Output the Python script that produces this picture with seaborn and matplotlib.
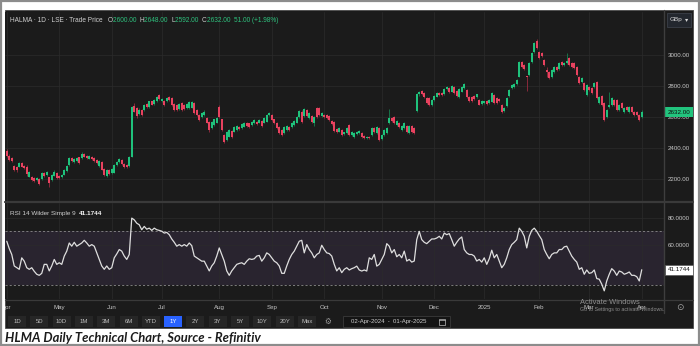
import numpy as np
import pandas as pd
import matplotlib
matplotlib.use("Agg")
import matplotlib.pyplot as plt
import seaborn as sns
from matplotlib.patches import Rectangle
from matplotlib.lines import Line2D
from matplotlib.transforms import blended_transform_factory, Bbox, TransformedBbox
from matplotlib.offsetbox import TextArea, HPacker, AnchoredOffsetbox
from matplotlib.ticker import FormatStrFormatter

# ---------------- data ----------------
start_date = "2024-04-02"
end_date = "2025-04-01"
uk_holidays = ["2024-05-06", "2024-05-27", "2024-08-26",
               "2024-12-25", "2024-12-26", "2025-01-01"]

opens = [
    2380, 2350, 2335, 2285, 2275, 2280, 2305, 2285, 2280, 2215,
    2215, 2205, 2195, 2200, 2200, 2238, 2225, 2210, 2195, 2222,
    2240, 2222, 2210, 2228, 2250, 2290, 2335, 2308, 2315, 2340,
    2335, 2362, 2350, 2330, 2345, 2335, 2322, 2282, 2312, 2262,
    2218, 2255, 2238, 2240, 2290, 2312, 2325, 2298, 2290, 2285,
    2345, 2668, 2655, 2622, 2645, 2645, 2685, 2665, 2700, 2685,
    2700, 2742, 2703, 2705, 2700, 2730, 2720, 2684, 2678, 2650,
    2688, 2678, 2656, 2656, 2660, 2688, 2645, 2613, 2598, 2613,
    2592, 2570, 2527, 2549, 2564, 2667, 2585, 2484, 2452, 2473,
    2512, 2506, 2516, 2538, 2527, 2538, 2564, 2559, 2549, 2559,
    2570, 2564, 2577, 2564, 2570, 2613, 2613, 2585, 2559, 2538,
    2516, 2495, 2516, 2534, 2538, 2549, 2564, 2602, 2635, 2607,
    2645, 2592, 2607, 2560, 2656, 2656, 2607, 2613, 2613, 2606,
    2576, 2570, 2520, 2506, 2516, 2490, 2495, 2548, 2484, 2469,
    2490, 2495, 2499, 2478, 2462, 2474, 2484, 2531, 2495, 2527,
    2456, 2484, 2495, 2559, 2591, 2598, 2548, 2563, 2516, 2527,
    2541, 2495, 2541, 2527, 2640, 2745, 2765, 2757, 2720, 2720,
    2677, 2710, 2731, 2753, 2752, 2748, 2778, 2785, 2763, 2796,
    2770, 2731, 2763, 2785, 2774, 2731, 2727, 2735, 2727, 2710,
    2682, 2690, 2705, 2688, 2699, 2742, 2720, 2718, 2677, 2640,
    2670, 2735, 2785, 2796, 2813, 2860, 2957, 2935, 2862, 2871,
    2957, 3022, 3092, 3022, 3011, 2968, 2905, 2892, 2860, 2892,
    2925, 2907, 2957, 2936, 2946, 2978, 2951, 2946, 2920, 2860,
    2828, 2822, 2742, 2796, 2785, 2796, 2828, 2688, 2735, 2688,
    2602, 2663, 2677, 2710, 2710, 2645, 2688, 2634, 2663, 2634,
    2666, 2634, 2634, 2613, 2600,
]

closes = [
    2350, 2325, 2315, 2260, 2255, 2300, 2280, 2270, 2230, 2245,
    2195, 2190, 2208, 2170, 2240, 2222, 2242, 2175, 2225, 2248,
    2205, 2205, 2228, 2258, 2285, 2335, 2315, 2328, 2335, 2302,
    2362, 2345, 2335, 2348, 2328, 2315, 2302, 2316, 2260, 2228,
    2258, 2230, 2262, 2290, 2312, 2330, 2298, 2280, 2278, 2345,
    2665, 2635, 2605, 2648, 2615, 2678, 2665, 2700, 2680, 2710,
    2730, 2714, 2714, 2678, 2720, 2710, 2678, 2645, 2645, 2684,
    2645, 2650, 2684, 2699, 2695, 2624, 2613, 2581, 2624, 2635,
    2564, 2516, 2570, 2585, 2592, 2602, 2516, 2441, 2506, 2516,
    2473, 2533, 2542, 2520, 2555, 2559, 2542, 2538, 2570, 2581,
    2553, 2581, 2542, 2592, 2613, 2624, 2581, 2559, 2527, 2495,
    2484, 2538, 2542, 2516, 2564, 2577, 2602, 2641, 2570, 2650,
    2607, 2624, 2570, 2602, 2602, 2613, 2628, 2602, 2592, 2581,
    2555, 2512, 2505, 2527, 2484, 2500, 2527, 2484, 2505, 2499,
    2505, 2510, 2473, 2462, 2474, 2462, 2527, 2505, 2538, 2452,
    2484, 2516, 2527, 2591, 2576, 2559, 2576, 2538, 2541, 2563,
    2505, 2541, 2505, 2499, 2745, 2760, 2745, 2731, 2688, 2677,
    2710, 2736, 2757, 2742, 2742, 2778, 2791, 2763, 2800, 2753,
    2735, 2778, 2796, 2813, 2731, 2705, 2705, 2714, 2745, 2680,
    2705, 2700, 2684, 2708, 2753, 2692, 2692, 2700, 2634, 2660,
    2720, 2774, 2806, 2812, 2839, 2957, 2925, 2907, 2858, 2951,
    3011, 3075, 3043, 2979, 2990, 2936, 2890, 2850, 2903, 2925,
    2903, 2951, 2936, 2951, 2960, 2936, 2925, 2914, 2871, 2817,
    2850, 2774, 2806, 2774, 2753, 2817, 2720, 2731, 2677, 2580,
    2645, 2677, 2720, 2677, 2645, 2677, 2656, 2656, 2645, 2666,
    2634, 2613, 2613, 2581, 2632,
]

highs = [
    2392, 2358, 2342, 2292, 2282, 2308, 2312, 2292, 2288, 2252,
    2222, 2210, 2215, 2205, 2246, 2245, 2250, 2215, 2230, 2255,
    2246, 2228, 2234, 2264, 2290, 2340, 2342, 2335, 2342, 2345,
    2372, 2368, 2355, 2354, 2350, 2340, 2328, 2322, 2318, 2268,
    2264, 2262, 2268, 2296, 2318, 2336, 2330, 2304, 2296, 2350,
    2672, 2690, 2662, 2655, 2652, 2684, 2690, 2706, 2705, 2716,
    2736, 2750, 2720, 2712, 2726, 2736, 2726, 2690, 2684, 2690,
    2694, 2684, 2690, 2705, 2700, 2694, 2650, 2618, 2630, 2642,
    2598, 2576, 2576, 2590, 2598, 2675, 2590, 2490, 2512, 2522,
    2518, 2540, 2548, 2544, 2560, 2565, 2570, 2564, 2576, 2587,
    2576, 2587, 2583, 2598, 2620, 2630, 2618, 2590, 2565, 2544,
    2522, 2544, 2548, 2540, 2570, 2583, 2608, 2648, 2642, 2656,
    2652, 2630, 2613, 2608, 2662, 2662, 2634, 2618, 2618, 2612,
    2582, 2576, 2526, 2533, 2522, 2506, 2533, 2554, 2511, 2505,
    2511, 2516, 2505, 2484, 2480, 2480, 2533, 2537, 2544, 2533,
    2490, 2522, 2533, 2650, 2597, 2604, 2582, 2569, 2547, 2569,
    2547, 2547, 2547, 2533, 2752, 2770, 2772, 2763, 2726, 2726,
    2716, 2742, 2763, 2759, 2758, 2784, 2797, 2791, 2806, 2802,
    2776, 2784, 2802, 2819, 2780, 2737, 2733, 2741, 2751, 2716,
    2711, 2706, 2711, 2714, 2760, 2748, 2726, 2724, 2683, 2666,
    2726, 2780, 2812, 2818, 2845, 2963, 2963, 2941, 2866, 2957,
    3017, 3082, 3100, 3028, 3017, 2974, 2925, 2898, 2909, 2931,
    2931, 2957, 2963, 2957, 3011, 2984, 2957, 2952, 2926, 2866,
    2856, 2828, 2812, 2802, 2791, 2823, 2834, 2737, 2741, 2694,
    2651, 2763, 2726, 2716, 2716, 2683, 2694, 2662, 2669, 2672,
    2672, 2640, 2640, 2619, 2648,
]

lows = [
    2345, 2318, 2308, 2252, 2248, 2275, 2275, 2262, 2222, 2210,
    2188, 2182, 2190, 2162, 2195, 2215, 2220, 2150, 2190, 2218,
    2198, 2200, 2205, 2224, 2245, 2285, 2310, 2302, 2310, 2296,
    2330, 2340, 2330, 2326, 2322, 2310, 2296, 2278, 2255, 2222,
    2212, 2225, 2232, 2236, 2286, 2306, 2292, 2274, 2272, 2280,
    2340, 2630, 2595, 2615, 2608, 2640, 2660, 2660, 2675, 2680,
    2694, 2708, 2698, 2672, 2695, 2704, 2672, 2640, 2638, 2645,
    2640, 2644, 2650, 2650, 2655, 2618, 2606, 2575, 2592, 2608,
    2558, 2505, 2520, 2544, 2560, 2596, 2510, 2430, 2446, 2468,
    2466, 2500, 2512, 2514, 2522, 2533, 2536, 2532, 2544, 2554,
    2548, 2558, 2536, 2558, 2565, 2608, 2575, 2553, 2520, 2488,
    2476, 2490, 2510, 2510, 2532, 2544, 2558, 2596, 2564, 2600,
    2600, 2586, 2562, 2540, 2596, 2606, 2600, 2596, 2585, 2575,
    2548, 2505, 2498, 2500, 2478, 2484, 2490, 2476, 2478, 2462,
    2484, 2490, 2466, 2455, 2456, 2456, 2478, 2498, 2490, 2444,
    2450, 2478, 2490, 2554, 2570, 2552, 2542, 2532, 2510, 2522,
    2498, 2490, 2498, 2492, 2630, 2738, 2740, 2725, 2682, 2670,
    2672, 2704, 2726, 2736, 2736, 2742, 2772, 2757, 2758, 2747,
    2729, 2725, 2758, 2780, 2725, 2699, 2699, 2708, 2721, 2674,
    2676, 2684, 2678, 2682, 2694, 2686, 2686, 2694, 2626, 2634,
    2664, 2730, 2780, 2790, 2808, 2855, 2918, 2900, 2765, 2865,
    2950, 3015, 3036, 2972, 2984, 2930, 2860, 2843, 2854, 2886,
    2897, 2901, 2930, 2930, 2940, 2930, 2919, 2908, 2865, 2810,
    2822, 2768, 2736, 2768, 2747, 2790, 2714, 2682, 2671, 2574,
    2596, 2657, 2671, 2671, 2639, 2639, 2650, 2628, 2639, 2628,
    2628, 2607, 2607, 2575, 2592,
]

rsi_values = [
    62.5, 57.0, 52.6, 44.0, 42.7, 41.5, 50.1, 47.6, 42.7, 41.5,
    42.7, 40.0, 37.8, 37.0, 38.5, 45.2, 45.2, 40.3, 44.0, 48.9,
    45.2, 46.4, 45.2, 51.4, 55.1, 61.2, 58.8, 61.7, 58.8, 60.0,
    61.2, 63.2, 61.2, 58.8, 60.0, 58.8, 53.8, 48.9, 44.0, 41.5,
    44.0, 41.5, 42.7, 50.1, 53.0, 56.3, 55.1, 51.4, 48.9, 52.6,
    79.8, 78.5, 76.0, 74.8, 71.1, 73.6, 71.5, 72.3, 70.6, 72.3,
    71.1, 70.6, 70.0, 68.6, 69.1, 67.4, 64.2, 61.7, 58.8, 60.0,
    58.8, 60.0, 58.8, 61.2, 59.2, 51.4, 50.1, 48.9, 47.6, 47.6,
    44.0, 40.3, 44.0, 46.4, 51.4, 57.5, 52.6, 47.6, 40.3, 37.0,
    40.3, 42.7, 45.2, 45.9, 46.4, 45.2, 47.6, 49.4, 48.9, 49.4,
    51.4, 51.9, 47.6, 50.1, 53.8, 52.6, 50.1, 47.6, 46.4, 44.0,
    38.5, 38.5, 44.0, 48.9, 52.6, 55.1, 58.8, 62.5, 63.2, 53.8,
    60.0, 56.3, 53.8, 50.1, 52.6, 53.8, 59.5, 56.3, 53.8, 53.3,
    51.4, 45.2, 40.3, 42.7, 39.0, 41.5, 42.7,
    41.0, 42.0, 42.7, 43.9, 41.0, 40.2, 41.0, 40.2, 50.1, 48.9,
    52.6, 43.9, 45.2, 48.9, 52.6, 60.7, 58.8, 53.8, 56.3, 50.9,
    52.6, 50.1, 55.1, 47.7, 48.9, 46.9, 47.7, 63.7, 69.9, 63.7,
    61.7, 60.7, 62.5, 64.2, 64.2, 64.9, 66.2, 64.2, 68.6, 67.4,
    68.2, 63.7, 58.8, 61.7, 64.2, 65.7, 56.3, 53.8, 52.6, 52.6,
    51.4, 47.7, 48.9, 46.9, 50.1, 45.2, 49.4, 55.8, 50.1, 52.6,
    47.7, 42.7, 45.2, 50.1, 56.3, 60.0, 61.7, 63.7, 72.3, 69.9,
    66.2, 57.5, 66.2, 70.6, 72.3, 69.9, 66.7, 63.7, 56.3, 52.6,
    49.4, 52.6, 53.8, 53.8, 56.3, 56.3, 58.3, 58.8, 55.1, 51.4,
    48.9, 46.9, 41.5, 42.7, 37.8, 41.0, 38.5, 39.0, 41.0, 34.6,
    34.1, 30.4, 25.4, 32.8, 37.8, 42.0, 40.2, 37.0, 40.2, 39.5,
    37.8, 38.5, 39.5, 37.0, 37.0, 36.0, 32.8, 41.1744,
]

price_ticks = [2200, 2400, 2600, 2800, 3000]
rsi_ticks = [60, 80]
rsi_band = [30, 70]
month_names = ["Apr", "May", "Jun", "Jul", "Aug", "Sep", "Oct", "Nov",
               "Dec", "2025", "Feb", "Mar", "Apr"]
range_buttons = ["1D", "5D", "10D", "1M", "3M", "6M", "YTD", "1Y",
                 "2Y", "3Y", "5Y", "10Y", "20Y", "Max"]
active_button = "1Y"
ticker_label = "HALMA · 1D · LSE · Trade Price"
rsi_label = "RSI 14 Wilder Simple 9"
currency = "GBp"
date_range_text = "02-Apr-2024  -  01-Apr-2025"
caption = "HLMA Daily Technical Chart, Source - Refinitiv"

# ---------------- table ----------------
days = pd.bdate_range(start_date, end_date)
days = days[~days.isin(pd.to_datetime(uk_holidays))]
df = pd.DataFrame({"date": days, "open": opens, "high": highs, "low": lows,
                   "close": closes, "rsi": rsi_values})
df["idx"] = np.arange(len(df))
month_first = df.groupby(df["date"].dt.to_period("M"))["idx"].min().tolist()

last = df.iloc[-1]
prev_close = df["close"].iloc[-2]
chg = last["close"] - prev_close
pct = chg / prev_close * 100

# ---------------- style ----------------
BG = "#1b1b1b"
GRID = "#2b2b2b"
TXT = "#c6c6c6"
GREEN = "#1fc27c"
RED = "#e8425f"
GREEN_W = "#17804f"
RED_W = "#9a2b40"
BAND = "#29242f"

sns.set_theme(style="dark", rc={"axes.facecolor": BG, "figure.facecolor": "white"})
plt.rcParams["font.family"] = ["Liberation Sans", "DejaVu Sans"]

W, H = 700, 346
fig = plt.figure(figsize=(W / 100, H / 100), dpi=100)


def fx(px):
    return px / W


def fy(py):
    return 1 - py / H


def frect(x0, y0, x1, y1, **kw):
    r = Rectangle((fx(x0), fy(y1)), fx(x1) - fx(x0), fy(y0) - fy(y1),
                  transform=fig.transFigure, **kw)
    fig.add_artist(r)
    return r


def fline(x0, y0, x1, y1, **kw):
    fig.add_artist(Line2D([fx(x0), fx(x1)], [fy(y0), fy(y1)],
                          transform=fig.transFigure, **kw))


# dark panel and outer frame
frect(4.5, 9.5, 693, 328, facecolor=BG, edgecolor="#4a4a4a", lw=0.6, zorder=-5)
frect(0.6, 0.6, 699.4, 345.4, fill=False, edgecolor="#8c8c8c", lw=1.6, zorder=20)

# ---------------- axes ----------------
ax_p = fig.add_axes([fx(5), fy(201), fx(665) - fx(5), fy(12) - fy(201)])
ax_r = fig.add_axes([fx(5), fy(299), fx(665) - fx(5), fy(203) - fy(299)], sharex=ax_p)
for ax in (ax_p, ax_r):
    ax.set_facecolor(BG)
    for s in ax.spines.values():
        s.set_visible(False)
    ax.set_axisbelow(True)

# candles
up = df["close"] >= df["open"]
body_col = np.where(up, GREEN, RED)
wick_col = np.where(up, GREEN_W, RED_W)
ax_p.vlines(df["idx"], df["low"], df["high"], colors=wick_col, lw=0.6, zorder=2)
body_h = (df["close"] - df["open"]).abs().clip(lower=3)
ax_p.bar(df["idx"], body_h, bottom=np.minimum(df["open"], df["close"]),
         width=0.68, color=body_col, linewidth=0, zorder=3)

ax_p.set_xlim(-0.7, 263.3)
ax_p.set_ylim(2058, 3277)
ax_p.set_yticks(price_ticks)
ax_p.yaxis.tick_right()
ax_p.yaxis.set_major_formatter(FormatStrFormatter("%.2f"))
ax_p.tick_params(axis="y", length=0, pad=2.3, labelsize=4.4, labelcolor=TXT)
ax_p.tick_params(axis="x", length=0, labelbottom=False)
ax_p.set_xticks(month_first)
ax_p.grid(True, color=GRID, lw=0.5)

# RSI
ax_r.axhspan(rsi_band[0], rsi_band[1], color=BAND, lw=0, zorder=0.2)
for v in rsi_band:
    ax_r.axhline(v, color="#8c8c8c", lw=0.6, ls=(0, (2.5, 2.5)), zorder=1)
sns.lineplot(data=df, x="idx", y="rsi", ax=ax_r, color="#dedede", lw=0.9,
             zorder=3, legend=False)
ax_r.set_xlabel("")
ax_r.set_ylabel("")
ax_p.set_xlabel("")
ax_p.set_ylabel("")
ax_r.set_ylim(19.3, 91.1)
ax_r.set_yticks(rsi_ticks)
ax_r.yaxis.tick_right()
ax_r.yaxis.set_major_formatter(FormatStrFormatter("%.4f"))
ax_r.tick_params(axis="y", length=0, pad=2.3, labelsize=4.4, labelcolor=TXT)
ax_r.set_xticks(month_first)
ax_r.set_xticklabels(month_names)
ax_r.tick_params(axis="x", length=0, pad=4.2, labelsize=4.4, labelcolor=TXT,
                 labelbottom=True)
ax_p.tick_params(axis="x", labelbottom=False)
ax_r.grid(True, color=GRID, lw=0.5)

clipbox = TransformedBbox(Bbox([[fx(5), 0], [fx(693), 1]]), fig.transFigure)
for lbl in ax_r.get_xticklabels():
    lbl.set_clip_on(True)
    lbl.set_clip_box(clipbox)

# value tags on the right axis
bt_p = blended_transform_factory(ax_p.transAxes, ax_p.transData)
ax_p.text(1 + 3 / 660, last["close"], f"{last['close']:.2f}", transform=bt_p,
          ha="left", va="center", fontsize=4.5, color="#0e0e0e", clip_on=False,
          zorder=10, bbox=dict(boxstyle="square,pad=0.42", fc="#22c47e", ec="none"))
bt_r = blended_transform_factory(ax_r.transAxes, ax_r.transData)
ax_r.text(1 + 3 / 660, df["rsi"].iloc[-1], f"{df['rsi'].iloc[-1]:.4f}", transform=bt_r,
          ha="left", va="center", fontsize=4.5, color="#111111", clip_on=False,
          zorder=10, bbox=dict(boxstyle="square,pad=0.42", fc="white", ec="#5a5a5a", lw=0.5))

# separators
fline(664, 10, 664, 313, color="#3e3e3e", lw=1.0, zorder=5)
fline(5, 202, 693, 202, color="#3a3a3a", lw=1.6, zorder=5)
fline(5, 299.5, 693, 299.5, color="#3a3a3a", lw=0.9, zorder=5)

# header line
GRAY_H = "#cfcfcf"
GREEN_H = "#2ec27e"
pieces = [(ticker_label + "   ", GRAY_H), ("O", GRAY_H), (f"{last['open']:.2f}  ", GREEN_H),
          ("H", GRAY_H), (f"{last['high']:.2f}  ", GREEN_H),
          ("L", GRAY_H), (f"{last['low']:.2f}  ", GREEN_H),
          ("C", GRAY_H), (f"{last['close']:.2f}  ", GREEN_H),
          (f"{chg:.2f} (+{pct:.2f}%)", GREEN_H)]
areas = [TextArea(s, textprops=dict(color=c, fontsize=4.7)) for s, c in pieces]
hp = HPacker(children=areas, align="baseline", pad=0, sep=0)
fig.add_artist(AnchoredOffsetbox(loc="center left", child=hp, pad=0, borderpad=0,
                                 frameon=False, bbox_to_anchor=(fx(10), fy(20)),
                                 bbox_transform=fig.transFigure))

rsi_pieces = [(rsi_label + "  ", GRAY_H), (f"{df['rsi'].iloc[-1]:.4f}", "#f2f2f2")]
areas2 = [TextArea(s, textprops=dict(color=c, fontsize=4.6,
                                     fontweight=("bold" if i == 1 else "normal")))
          for i, (s, c) in enumerate(rsi_pieces)]
hp2 = HPacker(children=areas2, align="baseline", pad=0, sep=0)
fig.add_artist(AnchoredOffsetbox(loc="center left", child=hp2, pad=0, borderpad=0,
                                 frameon=False, bbox_to_anchor=(fx(10), fy(213)),
                                 bbox_transform=fig.transFigure))

# currency selector
frect(667, 13.5, 690.5, 26.5, facecolor="#23272e", edgecolor="#3b4049", lw=0.6, zorder=6)
fig.text(fx(669.5), fy(20), currency, fontsize=4.6, color="#d8d8d8", va="center", zorder=7)
fig.text(fx(685), fy(20), "▾", fontsize=4.6, color="#d8d8d8", va="center", zorder=7,
         family=["DejaVu Sans"])

# toolbar
for k, name in enumerate(range_buttons):
    cx = 17 + 22.3 * k
    active = name == active_button
    frect(cx - 9, 316, cx + 9, 327, facecolor=("#2962ff" if active else "#262626"),
          edgecolor="none", zorder=6)
    fig.text(fx(cx), fy(321.5), name, fontsize=4.3, ha="center", va="center",
             color=("white" if active else "#bdbdbd"), zorder=7)
fig.text(fx(328), fy(321.5), "⚙", fontsize=5.5, ha="center", va="center",
         color="#9a9a9a", zorder=7, family=["DejaVu Sans"])
frect(343, 316, 450, 327, facecolor="#141414", edgecolor="#3a3a3a", lw=0.6, zorder=6)
fig.text(fx(351), fy(321.5), date_range_text, fontsize=4.3, va="center",
         color="#cfcfcf", zorder=7)
frect(438.5, 318.5, 445, 325, facecolor="none", edgecolor="#bdbdbd", lw=0.5, zorder=7)
fline(438.5, 320, 445, 320, color="#bdbdbd", lw=0.5, zorder=7)
fig.text(fx(680), fy(308), "⊙", fontsize=6.5, ha="center", va="center",
         color="#a0a0a0", zorder=7, family=["DejaVu Sans"])

# watermark
fig.text(fx(580), fy(302.5), "Activate Windows", fontsize=5.4, color="#8e8e8e",
         va="center", zorder=8)
fig.text(fx(580), fy(310), "Go to Settings to activate Windows.", fontsize=3.8,
         color="#8e8e8e", va="center", zorder=8)

# caption
fig.text(fx(5), fy(338), caption, fontsize=9.4, fontweight="bold", fontstyle="italic",
         color="#1c1c1c", va="center", family=["Lato", "DejaVu Sans"])

fig.savefig("out.png", dpi=100, facecolor="white")
